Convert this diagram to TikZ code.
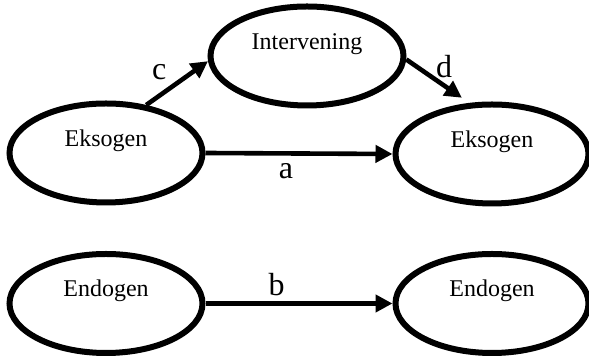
\documentclass[tikz,border=0pt]{standalone}
\usepackage{fontspec}
\setmainfont{Liberation Serif}
\usetikzlibrary{shapes,positioning,arrows.meta}
\tikzset{model layout/.style={%
    y=-0.5pt,%
    x=0.5pt,%
    every node/.style={%
        font=\fontsize{12}{14}\selectfont%
    }%
}}
\tikzset{construct/.style={%
    ellipse, draw=black, line width=3pt,
    minimum width=96.5pt, minimum height=49.5pt, inner sep=0pt,
    text height=8pt, text depth=14.5pt
}}
\tikzset{effect/.style={%
    draw=black, line width=2.3pt, -{Triangle[length=8.5pt,width=8.5pt]}
}}
\tikzset{effect label/.style={%
    font=\fontsize{16}{19}\selectfont, inner sep=2.5pt
}}
\begin{document}
\begin{tikzpicture}[model layout]
    \useasboundingbox (0,0) rectangle (589,356);

    \node[construct] (ekso1) at (106,153) {Eksogen};
    \node[construct] (inter) at (307,56) {Intervening};
    \node[construct] (ekso2) at (492,154) {Eksogen};
    \node[construct] (endo1) at (106,303.5) {Endogen};
    \node[construct] (endo2) at (492,303.5) {Endogen};

    \draw[effect] (ekso1.east) -- node[effect label, pos=.43, below=1.3pt] (la) {a} (ekso2.west);
    \draw[effect] (endo1.east) -- node[effect label, pos=.38, above] (lb) {b} (endo2.west);
    \draw[effect] (ekso1.50) -- node[effect label, pos=.21, above=4.3pt] (lc) {c} (inter.183);
    \draw[effect, shorten >=4.5pt] (inter.358) -- node[effect label, pos=.6, above] (ld) {d} (ekso2.114);
\end{tikzpicture}
\end{document}
